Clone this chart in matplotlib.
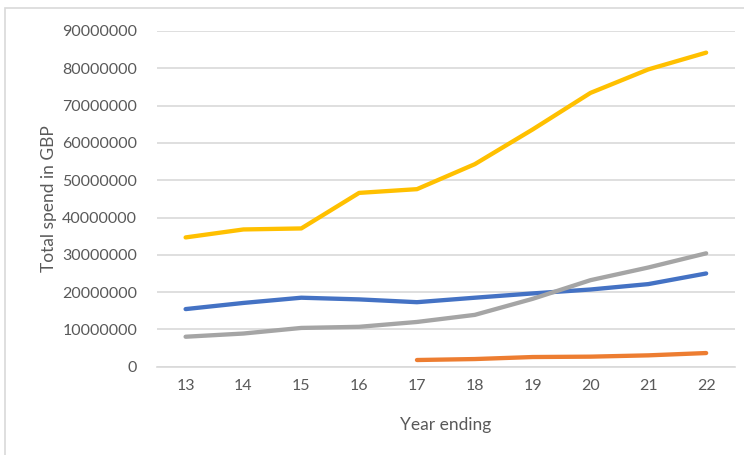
import matplotlib.pyplot as plt
from matplotlib.patches import Rectangle
from matplotlib.ticker import MultipleLocator, FuncFormatter

# year ending (financial year, two-digit)
years = ["13", "14", "15", "16", "17", "18", "19", "20", "21", "22"]

# total spend per series, GBP
spend_blue   = [15450000, 17100000, 18500000, 18050000, 17300000,
                18500000, 19650000, 20700000, 22150000, 25000000]
spend_orange = [None, None, None, None, 1800000,
                2060000, 2600000, 2700000, 3050000, 3670000]
spend_grey   = [8040000, 8900000, 10400000, 10700000, 12000000,
                13900000, 18200000, 23200000, 26600000, 30400000]
spend_gold   = [34660000, 36800000, 37070000, 46600000, 47600000,
                54300000, 63600000, 73400000, 79700000, 84200000]

plt.rcParams["font.family"] = ["Lato", "DejaVu Sans"]
TXT = "#595959"
GRID = "#D9D9D9"

fig = plt.figure(figsize=(7.44, 4.55), dpi=100)
ax = fig.add_axes([0.2106, 0.194, 0.988 - 0.2106, 0.9319 - 0.194])

# chart area border
fig.patches.append(Rectangle((5 / 744, -0.1), 1.1, 1 - 8 / 455 + 0.1,
                             transform=fig.transFigure, fill=False,
                             edgecolor=GRID, linewidth=1.2))

x = list(range(len(years)))


def draw(vals, color):
    pts = [(i, v) for i, v in zip(x, vals) if v is not None]
    ax.plot([p[0] for p in pts], [p[1] for p in pts], color=color,
            linewidth=3.1, solid_capstyle="round", solid_joinstyle="round",
            zorder=3)


draw(spend_blue, "#4472C4")
draw(spend_orange, "#ED7D31")
draw(spend_grey, "#A5A5A5")
draw(spend_gold, "#FFC000")

ax.set_xlim(-0.5, len(years) - 0.5)
ax.set_ylim(0, 90000000)
ax.set_xticks(x)
ax.set_xticklabels(years)
ax.yaxis.set_major_locator(MultipleLocator(10000000))
ax.yaxis.set_major_formatter(FuncFormatter(lambda v, p: f"{int(v)}"))

ax.grid(axis="y", color=GRID, linewidth=1.2, zorder=0)
for s in ["top", "right", "left"]:
    ax.spines[s].set_visible(False)
ax.spines["bottom"].set_color(GRID)
ax.spines["bottom"].set_linewidth(1.2)

ax.tick_params(axis="both", length=0, labelsize=11.5, colors=TXT)
ax.tick_params(axis="y", pad=14)
ax.tick_params(axis="x", pad=9)

ax.set_xlabel("Year ending", fontsize=12.5, color=TXT, labelpad=17)
ax.set_ylabel("Total spend in GBP", fontsize=12.5, color=TXT, labelpad=4)

fig.savefig("out.png", dpi=100)
